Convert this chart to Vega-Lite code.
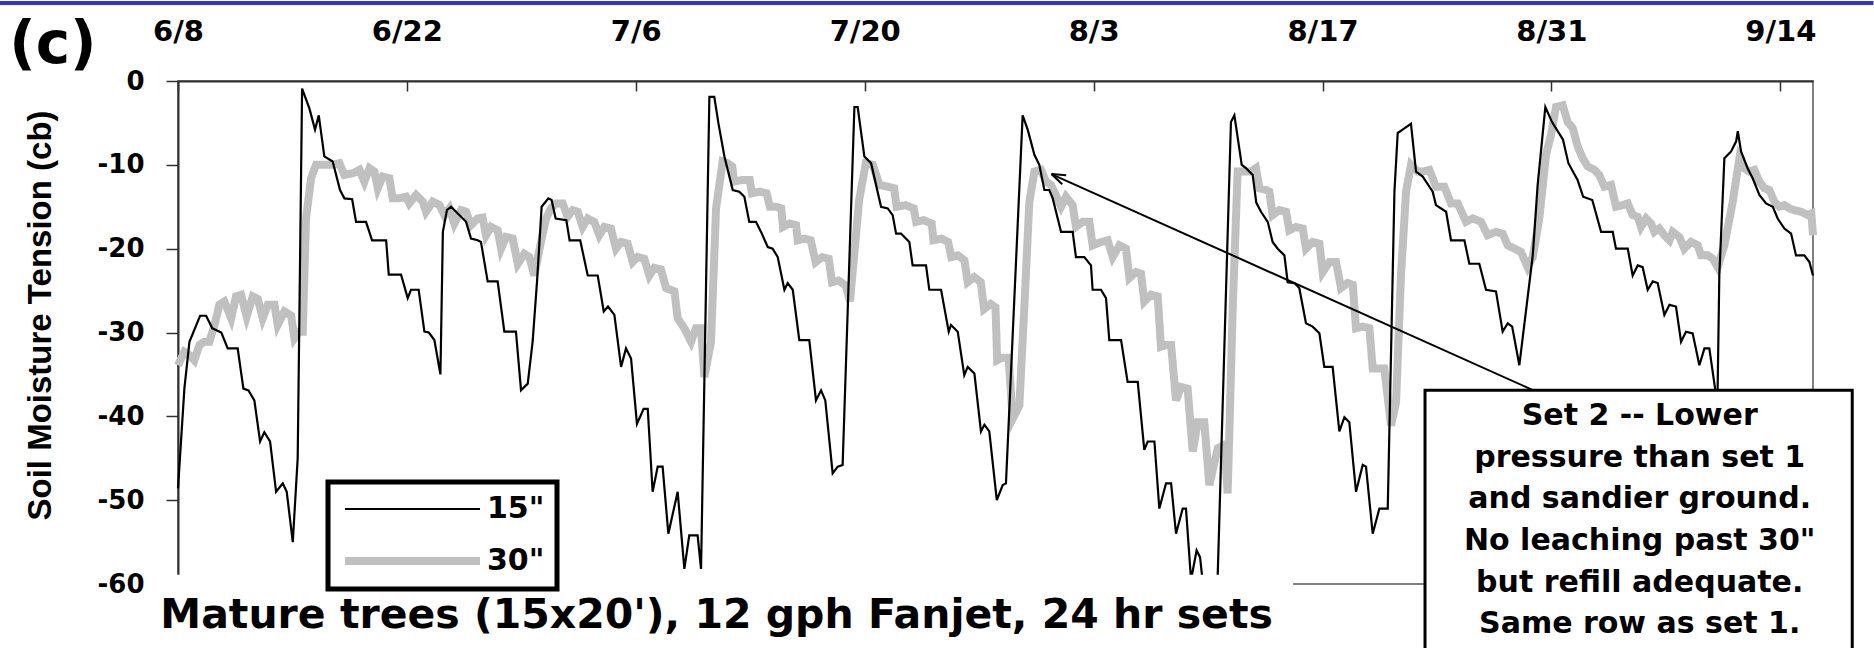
{
  "$schema": "https://vega.github.io/schema/vega-lite/v6.json",
  "width": 1635,
  "height": 503,
  "autosize": {"type": "none"},
  "padding": {"left": 178, "top": 81, "right": 61, "bottom": 64},
  "background": "white",
  "config": {
    "view": {"stroke": "#808080", "strokeWidth": 2},
    "font": "Liberation Sans",
    "legend": {"strokeWidth": 5}
  },
  "datasets": {
    "tension": [
      {"day":0,"cb":-33.9,"depth":"30\""},{"day":0.39,"cb":-32.3,"depth":"30\""},{"day":0.7,"cb":-32.7,"depth":"30\""},{"day":1.0,"cb":-33.3,"depth":"30\""},{"day":1.31,"cb":-31.5,"depth":"30\""},{"day":1.61,"cb":-31.1,"depth":"30\""},{"day":1.92,"cb":-31.1,"depth":"30\""},{"day":2.23,"cb":-29.1,"depth":"30\""},{"day":2.53,"cb":-26.7,"depth":"30\""},{"day":2.84,"cb":-26.3,"depth":"30\""},{"day":3.25,"cb":-28.3,"depth":"30\""},{"day":3.55,"cb":-25.7,"depth":"30\""},{"day":3.86,"cb":-25.5,"depth":"30\""},{"day":4.2,"cb":-28.1,"depth":"30\""},{"day":4.57,"cb":-25.7,"depth":"30\""},{"day":4.88,"cb":-26.0,"depth":"30\""},{"day":5.18,"cb":-28.3,"depth":"30\""},{"day":5.49,"cb":-26.7,"depth":"30\""},{"day":5.9,"cb":-26.7,"depth":"30\""},{"day":6.1,"cb":-29.1,"depth":"30\""},{"day":6.51,"cb":-27.5,"depth":"30\""},{"day":6.92,"cb":-28.0,"depth":"30\""},{"day":7.12,"cb":-30.7,"depth":"30\""},{"day":7.42,"cb":-29.9,"depth":"30\""},{"day":7.63,"cb":-29.9,"depth":"30\""},{"day":7.83,"cb":-16.4,"depth":"30\""},{"day":8.14,"cb":-11.6,"depth":"30\""},{"day":8.44,"cb":-10.0,"depth":"30\""},{"day":8.75,"cb":-10.0,"depth":"30\""},{"day":9.46,"cb":-10.0,"depth":"30\""},{"day":9.87,"cb":-9.8,"depth":"30\""},{"day":10.18,"cb":-11.2,"depth":"30\""},{"day":10.69,"cb":-11.0,"depth":"30\""},{"day":11.1,"cb":-10.6,"depth":"30\""},{"day":11.4,"cb":-12.0,"depth":"30\""},{"day":11.71,"cb":-10.4,"depth":"30\""},{"day":12.01,"cb":-10.8,"depth":"30\""},{"day":12.22,"cb":-12.8,"depth":"30\""},{"day":12.52,"cb":-11.4,"depth":"30\""},{"day":12.93,"cb":-11.6,"depth":"30\""},{"day":13.13,"cb":-14.0,"depth":"30\""},{"day":13.54,"cb":-14.0,"depth":"30\""},{"day":13.95,"cb":-13.8,"depth":"30\""},{"day":14.15,"cb":-14.6,"depth":"30\""},{"day":14.56,"cb":-13.6,"depth":"30\""},{"day":14.97,"cb":-14.4,"depth":"30\""},{"day":15.17,"cb":-15.6,"depth":"30\""},{"day":15.58,"cb":-14.4,"depth":"30\""},{"day":15.99,"cb":-14.8,"depth":"30\""},{"day":16.29,"cb":-16.0,"depth":"30\""},{"day":16.6,"cb":-15.2,"depth":"30\""},{"day":16.9,"cb":-17.0,"depth":"30\""},{"day":17.31,"cb":-15.4,"depth":"30\""},{"day":17.62,"cb":-15.6,"depth":"30\""},{"day":17.92,"cb":-17.2,"depth":"30\""},{"day":18.33,"cb":-16.4,"depth":"30\""},{"day":18.63,"cb":-16.3,"depth":"30\""},{"day":18.84,"cb":-18.4,"depth":"30\""},{"day":19.14,"cb":-17.4,"depth":"30\""},{"day":19.55,"cb":-17.8,"depth":"30\""},{"day":19.76,"cb":-20.0,"depth":"30\""},{"day":20.06,"cb":-18.6,"depth":"30\""},{"day":20.47,"cb":-18.8,"depth":"30\""},{"day":20.78,"cb":-21.8,"depth":"30\""},{"day":21.18,"cb":-20.6,"depth":"30\""},{"day":21.49,"cb":-21.0,"depth":"30\""},{"day":21.79,"cb":-23.2,"depth":"30\""},{"day":22.2,"cb":-19.2,"depth":"30\""},{"day":22.51,"cb":-16.4,"depth":"30\""},{"day":22.81,"cb":-15.2,"depth":"30\""},{"day":23.12,"cb":-14.6,"depth":"30\""},{"day":23.53,"cb":-14.6,"depth":"30\""},{"day":23.83,"cb":-16.2,"depth":"30\""},{"day":24.14,"cb":-15.4,"depth":"30\""},{"day":24.45,"cb":-15.6,"depth":"30\""},{"day":24.75,"cb":-17.4,"depth":"30\""},{"day":25.06,"cb":-16.4,"depth":"30\""},{"day":25.46,"cb":-16.8,"depth":"30\""},{"day":25.77,"cb":-18.4,"depth":"30\""},{"day":26.08,"cb":-17.4,"depth":"30\""},{"day":26.48,"cb":-17.6,"depth":"30\""},{"day":26.79,"cb":-20.0,"depth":"30\""},{"day":27.1,"cb":-19.2,"depth":"30\""},{"day":27.5,"cb":-19.4,"depth":"30\""},{"day":27.81,"cb":-21.6,"depth":"30\""},{"day":28.11,"cb":-21.0,"depth":"30\""},{"day":28.52,"cb":-21.2,"depth":"30\""},{"day":28.83,"cb":-23.2,"depth":"30\""},{"day":29.13,"cb":-22.3,"depth":"30\""},{"day":29.54,"cb":-22.5,"depth":"30\""},{"day":29.85,"cb":-24.7,"depth":"30\""},{"day":30.36,"cb":-25.1,"depth":"30\""},{"day":30.56,"cb":-28.3,"depth":"30\""},{"day":30.97,"cb":-29.5,"depth":"30\""},{"day":31.38,"cb":-31.1,"depth":"30\""},{"day":31.68,"cb":-29.5,"depth":"30\""},{"day":31.99,"cb":-29.5,"depth":"30\""},{"day":32.19,"cb":-35.3,"depth":"30\""},{"day":32.6,"cb":-31.1,"depth":"30\""},{"day":32.91,"cb":-15.2,"depth":"30\""},{"day":33.31,"cb":-9.6,"depth":"30\""},{"day":33.6,"cb":-9.8,"depth":"30\""},{"day":33.9,"cb":-10.2,"depth":"30\""},{"day":34.0,"cb":-12.0,"depth":"30\""},{"day":34.5,"cb":-11.8,"depth":"30\""},{"day":34.97,"cb":-11.8,"depth":"30\""},{"day":35.1,"cb":-13.4,"depth":"30\""},{"day":35.6,"cb":-13.2,"depth":"30\""},{"day":36.0,"cb":-13.4,"depth":"30\""},{"day":36.2,"cb":-15.0,"depth":"30\""},{"day":36.6,"cb":-15.0,"depth":"30\""},{"day":36.9,"cb":-15.2,"depth":"30\""},{"day":37.0,"cb":-17.4,"depth":"30\""},{"day":37.4,"cb":-17.0,"depth":"30\""},{"day":37.8,"cb":-17.2,"depth":"30\""},{"day":37.9,"cb":-19.0,"depth":"30\""},{"day":38.3,"cb":-18.8,"depth":"30\""},{"day":38.7,"cb":-19.0,"depth":"30\""},{"day":39.0,"cb":-21.6,"depth":"30\""},{"day":39.4,"cb":-21.0,"depth":"30\""},{"day":39.8,"cb":-21.2,"depth":"30\""},{"day":40.0,"cb":-24.0,"depth":"30\""},{"day":40.4,"cb":-23.8,"depth":"30\""},{"day":40.84,"cb":-24.4,"depth":"30\""},{"day":41.1,"cb":-26.3,"depth":"30\""},{"day":41.66,"cb":-14.2,"depth":"30\""},{"day":42.07,"cb":-9.8,"depth":"30\""},{"day":42.5,"cb":-10.0,"depth":"30\""},{"day":42.9,"cb":-12.4,"depth":"30\""},{"day":43.4,"cb":-12.6,"depth":"30\""},{"day":43.8,"cb":-12.8,"depth":"30\""},{"day":43.95,"cb":-15.0,"depth":"30\""},{"day":44.5,"cb":-14.8,"depth":"30\""},{"day":45.0,"cb":-15.2,"depth":"30\""},{"day":45.15,"cb":-16.8,"depth":"30\""},{"day":45.6,"cb":-16.6,"depth":"30\""},{"day":46.1,"cb":-17.0,"depth":"30\""},{"day":46.2,"cb":-19.0,"depth":"30\""},{"day":46.7,"cb":-18.8,"depth":"30\""},{"day":47.1,"cb":-19.2,"depth":"30\""},{"day":47.3,"cb":-21.0,"depth":"30\""},{"day":47.7,"cb":-20.8,"depth":"30\""},{"day":48.1,"cb":-21.4,"depth":"30\""},{"day":48.3,"cb":-24.0,"depth":"30\""},{"day":48.7,"cb":-23.4,"depth":"30\""},{"day":49.1,"cb":-24.0,"depth":"30\""},{"day":49.3,"cb":-27.2,"depth":"30\""},{"day":49.7,"cb":-26.6,"depth":"30\""},{"day":50.0,"cb":-27.0,"depth":"30\""},{"day":50.1,"cb":-33.3,"depth":"30\""},{"day":50.4,"cb":-33.0,"depth":"30\""},{"day":50.8,"cb":-33.0,"depth":"30\""},{"day":51.05,"cb":-40.3,"depth":"30\""},{"day":51.46,"cb":-38.7,"depth":"30\""},{"day":51.76,"cb":-27.1,"depth":"30\""},{"day":52.07,"cb":-14.4,"depth":"30\""},{"day":52.38,"cb":-10.8,"depth":"30\""},{"day":52.78,"cb":-10.6,"depth":"30\""},{"day":53.09,"cb":-12.0,"depth":"30\""},{"day":53.4,"cb":-12.4,"depth":"30\""},{"day":54.01,"cb":-15.0,"depth":"30\""},{"day":54.31,"cb":-13.8,"depth":"30\""},{"day":54.72,"cb":-14.8,"depth":"30\""},{"day":54.92,"cb":-17.4,"depth":"30\""},{"day":55.33,"cb":-16.8,"depth":"30\""},{"day":55.74,"cb":-16.8,"depth":"30\""},{"day":55.94,"cb":-19.6,"depth":"30\""},{"day":56.45,"cb":-19.2,"depth":"30\""},{"day":56.86,"cb":-19.0,"depth":"30\""},{"day":57.17,"cb":-21.0,"depth":"30\""},{"day":57.58,"cb":-19.6,"depth":"30\""},{"day":57.98,"cb":-20.0,"depth":"30\""},{"day":58.19,"cb":-23.5,"depth":"30\""},{"day":58.59,"cb":-22.8,"depth":"30\""},{"day":58.9,"cb":-23.0,"depth":"30\""},{"day":59.1,"cb":-26.3,"depth":"30\""},{"day":59.51,"cb":-25.5,"depth":"30\""},{"day":59.92,"cb":-25.7,"depth":"30\""},{"day":60.12,"cb":-31.7,"depth":"30\""},{"day":60.43,"cb":-31.5,"depth":"30\""},{"day":60.74,"cb":-31.5,"depth":"30\""},{"day":61.04,"cb":-38.1,"depth":"30\""},{"day":61.35,"cb":-36.5,"depth":"30\""},{"day":61.75,"cb":-36.7,"depth":"30\""},{"day":62.06,"cb":-44.2,"depth":"30\""},{"day":62.37,"cb":-40.7,"depth":"30\""},{"day":62.77,"cb":-40.7,"depth":"30\""},{"day":63.08,"cb":-48.2,"depth":"30\""},{"day":63.59,"cb":-43.8,"depth":"30\""},{"day":64.0,"cb":-43.4,"depth":"30\""},{"day":64.2,"cb":-49.2,"depth":"30\""},{"day":64.51,"cb":-27.1,"depth":"30\""},{"day":64.81,"cb":-10.8,"depth":"30\""},{"day":65.22,"cb":-10.8,"depth":"30\""},{"day":65.63,"cb":-10.8,"depth":"30\""},{"day":65.93,"cb":-10.4,"depth":"30\""},{"day":66.14,"cb":-12.8,"depth":"30\""},{"day":66.55,"cb":-13.0,"depth":"30\""},{"day":66.75,"cb":-13.2,"depth":"30\""},{"day":66.95,"cb":-16.0,"depth":"30\""},{"day":67.36,"cb":-15.4,"depth":"30\""},{"day":67.77,"cb":-15.6,"depth":"30\""},{"day":67.97,"cb":-17.8,"depth":"30\""},{"day":68.38,"cb":-17.4,"depth":"30\""},{"day":68.79,"cb":-17.6,"depth":"30\""},{"day":68.99,"cb":-20.0,"depth":"30\""},{"day":69.4,"cb":-19.2,"depth":"30\""},{"day":69.81,"cb":-19.4,"depth":"30\""},{"day":70.01,"cb":-22.8,"depth":"30\""},{"day":70.42,"cb":-21.6,"depth":"30\""},{"day":70.83,"cb":-21.6,"depth":"30\""},{"day":71.13,"cb":-24.7,"depth":"30\""},{"day":71.54,"cb":-24.1,"depth":"30\""},{"day":71.85,"cb":-24.3,"depth":"30\""},{"day":72.05,"cb":-29.5,"depth":"30\""},{"day":72.46,"cb":-29.3,"depth":"30\""},{"day":72.87,"cb":-29.5,"depth":"30\""},{"day":73.07,"cb":-34.3,"depth":"30\""},{"day":73.48,"cb":-34.3,"depth":"30\""},{"day":73.78,"cb":-34.3,"depth":"30\""},{"day":74.19,"cb":-41.1,"depth":"30\""},{"day":74.5,"cb":-38.3,"depth":"30\""},{"day":74.8,"cb":-23.2,"depth":"30\""},{"day":75.11,"cb":-13.2,"depth":"30\""},{"day":75.41,"cb":-10.0,"depth":"30\""},{"day":75.82,"cb":-10.8,"depth":"30\""},{"day":76.13,"cb":-10.8,"depth":"30\""},{"day":76.54,"cb":-10.6,"depth":"30\""},{"day":76.94,"cb":-12.6,"depth":"30\""},{"day":77.45,"cb":-12.6,"depth":"30\""},{"day":77.86,"cb":-14.6,"depth":"30\""},{"day":78.27,"cb":-14.6,"depth":"30\""},{"day":78.78,"cb":-16.8,"depth":"30\""},{"day":79.19,"cb":-16.4,"depth":"30\""},{"day":79.7,"cb":-16.8,"depth":"30\""},{"day":80.1,"cb":-18.4,"depth":"30\""},{"day":80.61,"cb":-18.0,"depth":"30\""},{"day":81.02,"cb":-18.2,"depth":"30\""},{"day":81.33,"cb":-19.6,"depth":"30\""},{"day":81.74,"cb":-20.0,"depth":"30\""},{"day":82.14,"cb":-20.4,"depth":"30\""},{"day":82.55,"cb":-22.2,"depth":"30\""},{"day":82.86,"cb":-21.0,"depth":"30\""},{"day":83.26,"cb":-16.4,"depth":"30\""},{"day":83.67,"cb":-8.8,"depth":"30\""},{"day":83.98,"cb":-6.4,"depth":"30\""},{"day":84.28,"cb":-3.1,"depth":"30\""},{"day":84.69,"cb":-2.9,"depth":"30\""},{"day":85.0,"cb":-4.9,"depth":"30\""},{"day":85.3,"cb":-5.6,"depth":"30\""},{"day":85.61,"cb":-7.8,"depth":"30\""},{"day":85.91,"cb":-9.2,"depth":"30\""},{"day":86.22,"cb":-10.2,"depth":"30\""},{"day":86.63,"cb":-10.6,"depth":"30\""},{"day":86.93,"cb":-11.2,"depth":"30\""},{"day":87.24,"cb":-12.6,"depth":"30\""},{"day":87.65,"cb":-12.4,"depth":"30\""},{"day":87.95,"cb":-15.0,"depth":"30\""},{"day":88.36,"cb":-14.8,"depth":"30\""},{"day":88.67,"cb":-14.6,"depth":"30\""},{"day":88.97,"cb":-16.0,"depth":"30\""},{"day":89.28,"cb":-16.2,"depth":"30\""},{"day":89.48,"cb":-17.4,"depth":"30\""},{"day":89.79,"cb":-16.4,"depth":"30\""},{"day":90.09,"cb":-17.0,"depth":"30\""},{"day":90.3,"cb":-18.0,"depth":"30\""},{"day":90.6,"cb":-17.6,"depth":"30\""},{"day":90.91,"cb":-18.4,"depth":"30\""},{"day":91.22,"cb":-19.0,"depth":"30\""},{"day":91.42,"cb":-18.0,"depth":"30\""},{"day":91.83,"cb":-18.6,"depth":"30\""},{"day":92.13,"cb":-20.0,"depth":"30\""},{"day":92.54,"cb":-19.2,"depth":"30\""},{"day":92.95,"cb":-19.6,"depth":"30\""},{"day":93.15,"cb":-20.8,"depth":"30\""},{"day":93.56,"cb":-20.8,"depth":"30\""},{"day":93.87,"cb":-21.2,"depth":"30\""},{"day":94.17,"cb":-22.2,"depth":"30\""},{"day":94.58,"cb":-19.6,"depth":"30\""},{"day":95.09,"cb":-14.4,"depth":"30\""},{"day":95.5,"cb":-9.2,"depth":"30\""},{"day":95.8,"cb":-10.4,"depth":"30\""},{"day":96.11,"cb":-10.8,"depth":"30\""},{"day":96.41,"cb":-10.6,"depth":"30\""},{"day":96.72,"cb":-12.0,"depth":"30\""},{"day":97.03,"cb":-12.8,"depth":"30\""},{"day":97.33,"cb":-13.0,"depth":"30\""},{"day":97.64,"cb":-14.4,"depth":"30\""},{"day":97.94,"cb":-15.0,"depth":"30\""},{"day":98.25,"cb":-14.8,"depth":"30\""},{"day":98.56,"cb":-15.2,"depth":"30\""},{"day":98.86,"cb":-15.4,"depth":"30\""},{"day":99.27,"cb":-15.6,"depth":"30\""},{"day":99.68,"cb":-16.0,"depth":"30\""},{"day":99.9,"cb":-15.8,"depth":"30\""},{"day":100.0,"cb":-18.4,"depth":"30\""},
      {"day":0,"cb":-48.6,"depth":"15\""},{"day":0.39,"cb":-36.7,"depth":"15\""},{"day":0.7,"cb":-31.1,"depth":"15\""},{"day":1.35,"cb":-28.0,"depth":"15\""},{"day":1.72,"cb":-28.0,"depth":"15\""},{"day":2.1,"cb":-29.5,"depth":"15\""},{"day":2.65,"cb":-30.0,"depth":"15\""},{"day":3.04,"cb":-31.9,"depth":"15\""},{"day":3.65,"cb":-31.9,"depth":"15\""},{"day":4.0,"cb":-36.7,"depth":"15\""},{"day":4.31,"cb":-36.9,"depth":"15\""},{"day":4.67,"cb":-38.1,"depth":"15\""},{"day":5.02,"cb":-43.0,"depth":"15\""},{"day":5.28,"cb":-41.9,"depth":"15\""},{"day":5.63,"cb":-43.0,"depth":"15\""},{"day":6.0,"cb":-49.0,"depth":"15\""},{"day":6.41,"cb":-48.0,"depth":"15\""},{"day":6.65,"cb":-49.0,"depth":"15\""},{"day":7.02,"cb":-55.0,"depth":"15\""},{"day":7.32,"cb":-45.0,"depth":"15\""},{"day":7.59,"cb":-0.9,"depth":"15\""},{"day":8.04,"cb":-3.3,"depth":"15\""},{"day":8.38,"cb":-5.8,"depth":"15\""},{"day":8.61,"cb":-4.1,"depth":"15\""},{"day":8.95,"cb":-9.0,"depth":"15\""},{"day":9.46,"cb":-9.6,"depth":"15\""},{"day":9.91,"cb":-13.0,"depth":"15\""},{"day":10.18,"cb":-14.0,"depth":"15\""},{"day":10.65,"cb":-14.1,"depth":"15\""},{"day":10.89,"cb":-16.8,"depth":"15\""},{"day":11.5,"cb":-16.8,"depth":"15\""},{"day":11.87,"cb":-19.0,"depth":"15\""},{"day":12.73,"cb":-19.0,"depth":"15\""},{"day":12.89,"cb":-23.1,"depth":"15\""},{"day":13.64,"cb":-23.1,"depth":"15\""},{"day":14.05,"cb":-25.9,"depth":"15\""},{"day":14.25,"cb":-24.9,"depth":"15\""},{"day":14.72,"cb":-24.9,"depth":"15\""},{"day":15.07,"cb":-29.9,"depth":"15\""},{"day":15.34,"cb":-30.0,"depth":"15\""},{"day":15.68,"cb":-30.9,"depth":"15\""},{"day":16.05,"cb":-35.0,"depth":"15\""},{"day":16.2,"cb":-18.0,"depth":"15\""},{"day":16.45,"cb":-15.4,"depth":"15\""},{"day":16.7,"cb":-15.0,"depth":"15\""},{"day":17.62,"cb":-16.8,"depth":"15\""},{"day":17.92,"cb":-18.8,"depth":"15\""},{"day":18.33,"cb":-19.0,"depth":"15\""},{"day":18.53,"cb":-19.2,"depth":"15\""},{"day":18.94,"cb":-23.9,"depth":"15\""},{"day":19.55,"cb":-23.9,"depth":"15\""},{"day":19.96,"cb":-29.9,"depth":"15\""},{"day":20.67,"cb":-29.9,"depth":"15\""},{"day":20.98,"cb":-36.9,"depth":"15\""},{"day":21.39,"cb":-36.1,"depth":"15\""},{"day":21.69,"cb":-31.1,"depth":"15\""},{"day":21.96,"cb":-23.9,"depth":"15\""},{"day":22.24,"cb":-15.0,"depth":"15\""},{"day":22.65,"cb":-14.0,"depth":"15\""},{"day":22.85,"cb":-14.2,"depth":"15\""},{"day":23.1,"cb":-16.4,"depth":"15\""},{"day":23.75,"cb":-16.6,"depth":"15\""},{"day":23.95,"cb":-19.0,"depth":"15\""},{"day":24.6,"cb":-19.0,"depth":"15\""},{"day":25.06,"cb":-23.2,"depth":"15\""},{"day":25.67,"cb":-23.2,"depth":"15\""},{"day":26.04,"cb":-27.5,"depth":"15\""},{"day":26.3,"cb":-26.9,"depth":"15\""},{"day":26.69,"cb":-27.9,"depth":"15\""},{"day":27.1,"cb":-34.1,"depth":"15\""},{"day":27.4,"cb":-31.9,"depth":"15\""},{"day":27.71,"cb":-33.1,"depth":"15\""},{"day":28.07,"cb":-40.9,"depth":"15\""},{"day":28.48,"cb":-39.1,"depth":"15\""},{"day":28.73,"cb":-39.1,"depth":"15\""},{"day":29.03,"cb":-49.0,"depth":"15\""},{"day":29.34,"cb":-46.0,"depth":"15\""},{"day":29.64,"cb":-46.0,"depth":"15\""},{"day":29.99,"cb":-54.0,"depth":"15\""},{"day":30.56,"cb":-49.0,"depth":"15\""},{"day":30.97,"cb":-58.2,"depth":"15\""},{"day":31.27,"cb":-54.2,"depth":"15\""},{"day":31.78,"cb":-54.2,"depth":"15\""},{"day":31.99,"cb":-58.2,"depth":"15\""},{"day":32.5,"cb":-1.9,"depth":"15\""},{"day":32.8,"cb":-1.9,"depth":"15\""},{"day":33.05,"cb":-5.0,"depth":"15\""},{"day":33.42,"cb":-9.0,"depth":"15\""},{"day":33.93,"cb":-13.0,"depth":"15\""},{"day":34.33,"cb":-13.2,"depth":"15\""},{"day":34.64,"cb":-13.8,"depth":"15\""},{"day":34.94,"cb":-16.8,"depth":"15\""},{"day":35.35,"cb":-16.8,"depth":"15\""},{"day":35.66,"cb":-18.0,"depth":"15\""},{"day":36.07,"cb":-19.8,"depth":"15\""},{"day":36.37,"cb":-20.0,"depth":"15\""},{"day":36.68,"cb":-21.0,"depth":"15\""},{"day":37.09,"cb":-24.9,"depth":"15\""},{"day":37.29,"cb":-24.1,"depth":"15\""},{"day":37.6,"cb":-24.9,"depth":"15\""},{"day":38.0,"cb":-30.9,"depth":"15\""},{"day":38.61,"cb":-30.9,"depth":"15\""},{"day":39.02,"cb":-38.1,"depth":"15\""},{"day":39.33,"cb":-36.9,"depth":"15\""},{"day":39.59,"cb":-38.1,"depth":"15\""},{"day":40.04,"cb":-46.8,"depth":"15\""},{"day":40.35,"cb":-46.0,"depth":"15\""},{"day":40.65,"cb":-45.8,"depth":"15\""},{"day":41.37,"cb":-3.1,"depth":"15\""},{"day":41.57,"cb":-3.1,"depth":"15\""},{"day":41.98,"cb":-9.0,"depth":"15\""},{"day":42.39,"cb":-9.8,"depth":"15\""},{"day":43.0,"cb":-15.0,"depth":"15\""},{"day":43.41,"cb":-15.2,"depth":"15\""},{"day":43.71,"cb":-16.0,"depth":"15\""},{"day":43.92,"cb":-18.2,"depth":"15\""},{"day":44.22,"cb":-18.2,"depth":"15\""},{"day":44.73,"cb":-19.2,"depth":"15\""},{"day":44.93,"cb":-22.0,"depth":"15\""},{"day":45.75,"cb":-22.0,"depth":"15\""},{"day":45.95,"cb":-24.9,"depth":"15\""},{"day":46.67,"cb":-24.9,"depth":"15\""},{"day":47.14,"cb":-29.9,"depth":"15\""},{"day":47.28,"cb":-29.1,"depth":"15\""},{"day":47.69,"cb":-29.9,"depth":"15\""},{"day":48.09,"cb":-35.1,"depth":"15\""},{"day":48.3,"cb":-34.1,"depth":"15\""},{"day":48.71,"cb":-34.9,"depth":"15\""},{"day":49.11,"cb":-41.8,"depth":"15\""},{"day":49.32,"cb":-41.0,"depth":"15\""},{"day":49.62,"cb":-41.8,"depth":"15\""},{"day":50.08,"cb":-50.0,"depth":"15\""},{"day":50.44,"cb":-48.2,"depth":"15\""},{"day":50.64,"cb":-48.0,"depth":"15\""},{"day":51.66,"cb":-4.1,"depth":"15\""},{"day":51.97,"cb":-5.8,"depth":"15\""},{"day":52.38,"cb":-8.8,"depth":"15\""},{"day":52.68,"cb":-10.0,"depth":"15\""},{"day":52.99,"cb":-13.0,"depth":"15\""},{"day":53.29,"cb":-13.0,"depth":"15\""},{"day":53.5,"cb":-14.0,"depth":"15\""},{"day":54.01,"cb":-18.0,"depth":"15\""},{"day":54.72,"cb":-18.0,"depth":"15\""},{"day":54.92,"cb":-21.0,"depth":"15\""},{"day":55.43,"cb":-21.0,"depth":"15\""},{"day":55.84,"cb":-22.0,"depth":"15\""},{"day":55.94,"cb":-24.9,"depth":"15\""},{"day":56.45,"cb":-24.9,"depth":"15\""},{"day":56.76,"cb":-25.9,"depth":"15\""},{"day":56.96,"cb":-30.9,"depth":"15\""},{"day":57.68,"cb":-30.9,"depth":"15\""},{"day":58.08,"cb":-35.9,"depth":"15\""},{"day":58.7,"cb":-35.9,"depth":"15\""},{"day":59.1,"cb":-44.0,"depth":"15\""},{"day":59.31,"cb":-43.0,"depth":"15\""},{"day":59.72,"cb":-43.0,"depth":"15\""},{"day":60.02,"cb":-51.0,"depth":"15\""},{"day":60.43,"cb":-48.0,"depth":"15\""},{"day":60.74,"cb":-48.0,"depth":"15\""},{"day":61.04,"cb":-54.0,"depth":"15\""},{"day":61.45,"cb":-51.0,"depth":"15\""},{"day":61.65,"cb":-51.0,"depth":"15\""},{"day":61.96,"cb":-59.5,"depth":"15\""},{"day":62.3,"cb":-56.0,"depth":"15\""},{"day":62.51,"cb":-56.8,"depth":"15\""},{"day":62.8,"cb":-62.0,"depth":"15\""},{"day":63.3,"cb":-63.0,"depth":"15\""},{"day":63.59,"cb":-59.0,"depth":"15\""},{"day":64.4,"cb":-4.9,"depth":"15\""},{"day":64.61,"cb":-4.1,"depth":"15\""},{"day":65.06,"cb":-10.0,"depth":"15\""},{"day":65.32,"cb":-10.4,"depth":"15\""},{"day":65.73,"cb":-11.2,"depth":"15\""},{"day":65.95,"cb":-14.5,"depth":"15\""},{"day":66.24,"cb":-15.6,"depth":"15\""},{"day":66.65,"cb":-16.8,"depth":"15\""},{"day":66.95,"cb":-19.2,"depth":"15\""},{"day":67.26,"cb":-20.0,"depth":"15\""},{"day":67.67,"cb":-20.8,"depth":"15\""},{"day":67.87,"cb":-24.0,"depth":"15\""},{"day":68.28,"cb":-24.1,"depth":"15\""},{"day":68.58,"cb":-24.7,"depth":"15\""},{"day":68.99,"cb":-28.9,"depth":"15\""},{"day":69.4,"cb":-29.3,"depth":"15\""},{"day":69.81,"cb":-30.1,"depth":"15\""},{"day":70.11,"cb":-34.1,"depth":"15\""},{"day":70.62,"cb":-34.1,"depth":"15\""},{"day":71.03,"cb":-41.8,"depth":"15\""},{"day":71.34,"cb":-40.1,"depth":"15\""},{"day":71.64,"cb":-40.7,"depth":"15\""},{"day":72.05,"cb":-49.0,"depth":"15\""},{"day":72.46,"cb":-45.8,"depth":"15\""},{"day":72.66,"cb":-46.0,"depth":"15\""},{"day":73.07,"cb":-54.0,"depth":"15\""},{"day":73.48,"cb":-51.0,"depth":"15\""},{"day":73.99,"cb":-51.0,"depth":"15\""},{"day":74.4,"cb":-13.2,"depth":"15\""},{"day":74.6,"cb":-6.2,"depth":"15\""},{"day":74.9,"cb":-5.8,"depth":"15\""},{"day":75.41,"cb":-5.1,"depth":"15\""},{"day":75.72,"cb":-10.8,"depth":"15\""},{"day":76.13,"cb":-11.4,"depth":"15\""},{"day":76.74,"cb":-13.2,"depth":"15\""},{"day":76.94,"cb":-14.8,"depth":"15\""},{"day":77.56,"cb":-15.6,"depth":"15\""},{"day":77.86,"cb":-19.0,"depth":"15\""},{"day":78.68,"cb":-19.0,"depth":"15\""},{"day":78.98,"cb":-21.8,"depth":"15\""},{"day":79.59,"cb":-21.8,"depth":"15\""},{"day":80.0,"cb":-24.9,"depth":"15\""},{"day":80.61,"cb":-25.1,"depth":"15\""},{"day":81.02,"cb":-29.9,"depth":"15\""},{"day":81.33,"cb":-28.9,"depth":"15\""},{"day":81.6,"cb":-29.3,"depth":"15\""},{"day":82.04,"cb":-33.9,"depth":"15\""},{"day":82.86,"cb":-20.8,"depth":"15\""},{"day":83.16,"cb":-12.4,"depth":"15\""},{"day":83.63,"cb":-3.1,"depth":"15\""},{"day":84.04,"cb":-4.9,"depth":"15\""},{"day":84.71,"cb":-7.0,"depth":"15\""},{"day":85.04,"cb":-9.8,"depth":"15\""},{"day":85.6,"cb":-11.8,"depth":"15\""},{"day":85.94,"cb":-13.8,"depth":"15\""},{"day":86.5,"cb":-14.2,"depth":"15\""},{"day":87.04,"cb":-18.0,"depth":"15\""},{"day":87.75,"cb":-18.0,"depth":"15\""},{"day":87.95,"cb":-20.0,"depth":"15\""},{"day":88.67,"cb":-20.0,"depth":"15\""},{"day":88.97,"cb":-23.2,"depth":"15\""},{"day":89.28,"cb":-22.0,"depth":"15\""},{"day":89.58,"cb":-22.2,"depth":"15\""},{"day":89.89,"cb":-24.9,"depth":"15\""},{"day":90.2,"cb":-23.9,"depth":"15\""},{"day":90.5,"cb":-24.1,"depth":"15\""},{"day":90.91,"cb":-27.9,"depth":"15\""},{"day":91.22,"cb":-26.7,"depth":"15\""},{"day":91.62,"cb":-26.9,"depth":"15\""},{"day":91.93,"cb":-31.1,"depth":"15\""},{"day":92.23,"cb":-29.9,"depth":"15\""},{"day":92.64,"cb":-30.1,"depth":"15\""},{"day":93.05,"cb":-33.9,"depth":"15\""},{"day":93.36,"cb":-31.9,"depth":"15\""},{"day":93.66,"cb":-31.9,"depth":"15\""},{"day":94.07,"cb":-37.5,"depth":"15\""},{"day":94.15,"cb":-39.0,"depth":"15\""},{"day":94.27,"cb":-23.2,"depth":"15\""},{"day":94.58,"cb":-9.2,"depth":"15\""},{"day":94.99,"cb":-8.4,"depth":"15\""},{"day":95.3,"cb":-7.2,"depth":"15\""},{"day":95.4,"cb":-6.0,"depth":"15\""},{"day":95.6,"cb":-8.4,"depth":"15\""},{"day":96.0,"cb":-10.4,"depth":"15\""},{"day":96.31,"cb":-11.6,"depth":"15\""},{"day":96.72,"cb":-13.6,"depth":"15\""},{"day":97.13,"cb":-14.6,"depth":"15\""},{"day":97.54,"cb":-15.0,"depth":"15\""},{"day":97.84,"cb":-16.4,"depth":"15\""},{"day":98.25,"cb":-17.6,"depth":"15\""},{"day":98.66,"cb":-18.2,"depth":"15\""},{"day":98.96,"cb":-20.8,"depth":"15\""},{"day":99.47,"cb":-20.8,"depth":"15\""},{"day":99.78,"cb":-21.6,"depth":"15\""},{"day":100.0,"cb":-23.2,"depth":"15\""}
    ]
  },
  "layer": [
    {
      "data": {"name": "tension"},
      "mark": {"type": "line", "strokeJoin": "miter", "clip": false},
      "encoding": {
        "x": {
          "field": "day", "type": "quantitative",
          "scale": {"domain": [0, 100], "nice": false, "zero": false},
          "axis": {
            "orient": "top", "title": null,
            "values": [0, 14, 28, 42, 56, 70, 84, 98],
            "labelExpr": "timeFormat(datetime(2001, 5, 8 + datum.value), '%-m/%-d')",
            "labelFont": "DejaVu Sans", "labelFontSize": 29, "labelFontWeight": "bold", "labelColor": "#000000",
            "labelFlush": false, "labelOverlap": false, "labelBound": false,
            "labelBaseline": "alphabetic", "labelPadding": 51,
            "tickSize": -10, "tickColor": "#303030", "tickWidth": 1.5,
            "domainColor": "#303030", "domainWidth": 2, "grid": false
          }
        },
        "y": {
          "field": "cb", "type": "quantitative",
          "scale": {"domain": [-60, 0], "nice": false, "zero": false},
          "axis": {
            "title": "Soil Moisture Tension (cb)",
            "titleFont": "Liberation Sans", "titleFontSize": 33, "titleFontWeight": "bold", "titleColor": "#000000",
            "titleX": -138, "titleY": 234, "titleAngle": 270, "titleBaseline": "middle", "titleAlign": "center",
            "values": [0, -10, -20, -30, -40, -50, -60],
            "labelExpr": "'' + datum.value",
            "labelFont": "DejaVu Sans", "labelFontSize": 26, "labelFontWeight": "bold", "labelColor": "#000000",
            "labelFlush": false, "labelOverlap": false, "labelPadding": 22, "labelBaseline": "middle",
            "tickSize": 12, "tickColor": "#303030", "tickWidth": 1.5,
            "domainColor": "#303030", "domainWidth": 2, "grid": false
          }
        },
        "color": {
          "field": "depth", "type": "nominal",
          "scale": {"domain": ["15\"", "30\""], "range": ["#000000", "#c0c0c0"]},
          "legend": {
            "title": null, "orient": "none", "legendX": 150, "legendY": 401,
            "padding": 12, "strokeColor": "#000000", "fillColor": "#ffffff",
            "symbolType": "M-5,0H5", "symbolSize": 729, "symbolOffset": 55, "labelOffset": 57,
            "labelFont": "DejaVu Sans", "labelFontSize": 30, "labelFontWeight": "bold", "labelColor": "#000000",
            "labelBaseline": "middle", "rowPadding": 19.5,
            "encode": {"legend": {"update": {"strokeWidth": {"value": 5}}}}
          }
        },
        "strokeWidth": {
          "field": "depth", "type": "ordinal",
          "scale": {"domain": ["15\"", "30\""], "range": [2.2, 8]},
          "legend": {
            "title": null, "orient": "none", "legendX": 150, "legendY": 401,
            "padding": 12, "strokeColor": "#000000", "fillColor": "#ffffff",
            "symbolType": "M-5,0H5", "symbolSize": 729, "symbolOffset": 55, "labelOffset": 57,
            "labelFont": "DejaVu Sans", "labelFontSize": 30, "labelFontWeight": "bold", "labelColor": "#000000",
            "labelBaseline": "middle", "rowPadding": 19.5,
            "encode": {"legend": {"update": {"strokeWidth": {"value": 5}}}}
          }
        }
      }
    },
    {
      "data": {"values": [{"day": -1.2, "day2": 68.2, "cb": -58.9, "cb2": -72}]},
      "mark": {"type": "rect", "fill": "#ffffff", "clip": false},
      "encoding": {
        "x": {"field": "day", "type": "quantitative"},
        "x2": {"field": "day2"},
        "y": {"field": "cb", "type": "quantitative"},
        "y2": {"field": "cb2"}
      }
    },
    {
      "data": {"values": [{"day": -1.08, "cb": -65.2, "caption": "Mature trees (15x20'), 12 gph Fanjet, 24 hr sets"}]},
      "mark": {"type": "text", "align": "left", "baseline": "alphabetic", "font": "DejaVu Sans", "fontSize": 41, "fontWeight": "bold", "color": "#000000", "clip": false},
      "encoding": {
        "x": {"field": "day", "type": "quantitative"},
        "y": {"field": "cb", "type": "quantitative"},
        "text": {"field": "caption"}
      }
    },
    {
      "data": {"values": [{"day": 76.27, "day2": 102.4, "cb": -36.9, "cb2": -75}]},
      "mark": {"type": "rect", "fill": "#ffffff", "stroke": "#000000", "strokeWidth": 3, "clip": false},
      "encoding": {
        "x": {"field": "day", "type": "quantitative"},
        "x2": {"field": "day2"},
        "y": {"field": "cb", "type": "quantitative"},
        "y2": {"field": "cb2"}
      }
    },
    {
      "data": {"values": [{"day": 89.4, "cb": -41.05, "note": "Set 2 -- Lower\npressure than set 1\nand sandier ground.\nNo leaching past 30\"\nbut refill adequate.\nSame row as set 1."}]},
      "mark": {"type": "text", "align": "center", "baseline": "alphabetic", "lineBreak": "\n", "lineHeight": 41.6, "font": "DejaVu Sans", "fontSize": 30, "fontWeight": "bold", "color": "#000000", "clip": false},
      "encoding": {
        "x": {"field": "day", "type": "quantitative"},
        "y": {"field": "cb", "type": "quantitative"},
        "text": {"field": "note"}
      }
    },
    {
      "data": {"values": [{"day": 53.42, "cb": -11.1, "day2": 82.9, "cb2": -36.9}]},
      "mark": {"type": "rule", "color": "#000000", "strokeWidth": 2, "clip": false},
      "encoding": {
        "x": {"field": "day", "type": "quantitative"},
        "y": {"field": "cb", "type": "quantitative"},
        "x2": {"field": "day2"},
        "y2": {"field": "cb2"}
      }
    },
    {
      "data": {"values": [{"day": 53.42, "cb": -11.1}]},
      "mark": {"type": "point", "shape": "M0,0L2,-0.7M0,0L2,0.7", "size": 196, "angle": 24, "filled": false, "stroke": "#000000", "strokeWidth": 2, "opacity": 1, "clip": false},
      "encoding": {
        "x": {"field": "day", "type": "quantitative"},
        "y": {"field": "cb", "type": "quantitative"}
      }
    },
    {
      "data": {"values": [{"day": -7.65, "cb": 4.18, "panel": "(c)"}]},
      "mark": {"type": "text", "align": "center", "baseline": "middle", "font": "DejaVu Sans", "fontSize": 58, "fontWeight": "bold", "color": "#000000", "clip": false},
      "encoding": {
        "x": {"field": "day", "type": "quantitative"},
        "y": {"field": "cb", "type": "quantitative"},
        "text": {"field": "panel"}
      }
    },
    {
      "data": {"values": [{"day": -10.92, "day2": 103.7, "cb": 9.3}]},
      "mark": {"type": "rule", "color": "#3333cc", "strokeWidth": 4, "clip": false},
      "encoding": {
        "x": {"field": "day", "type": "quantitative"},
        "x2": {"field": "day2"},
        "y": {"field": "cb", "type": "quantitative"}
      }
    }
  ]
}
